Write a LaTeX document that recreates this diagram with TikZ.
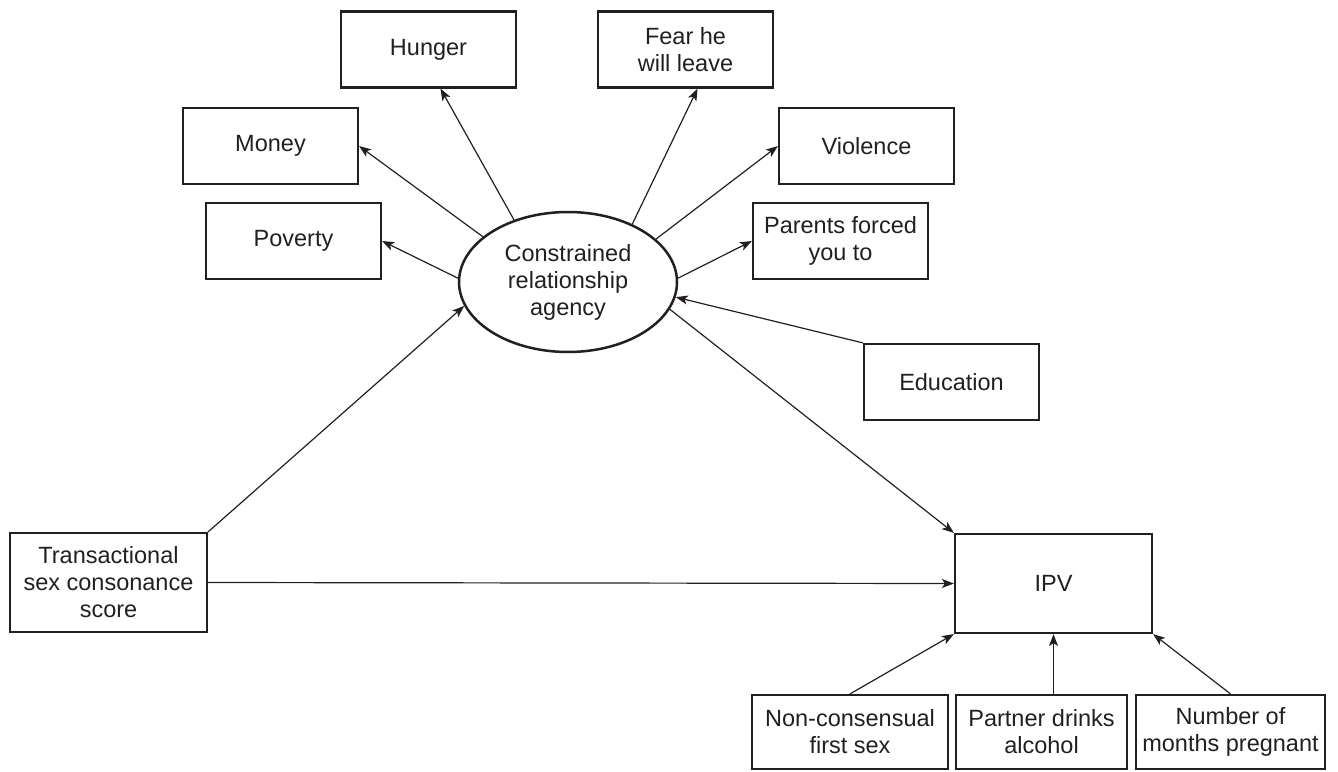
\documentclass[tikz,border=0pt]{standalone}
\usepackage{fontspec}
\setmainfont{Liberation Sans}
\usetikzlibrary{arrows.meta,shapes.geometric}
\definecolor{ink}{HTML}{231F20}
\tikzset{
  box/.style={draw=ink, line width=2.2pt, text=ink, align=center, inner sep=1pt, minimum width=175pt, minimum height=76pt},
  ell/.style={draw=ink, line width=2.5pt, ellipse, text=ink, align=center, inner sep=0pt, minimum width=218pt, minimum height=140pt},
  link/.style={draw=ink, line width=1.2pt, -{Stealth[length=12pt,width=9pt,inset=3pt]}},
  plain/.style={draw=ink, line width=1.2pt}
}
\begin{document}
\begin{tikzpicture}[x=1pt,y=-1pt, font=\fontsize{23.5}{27}\selectfont]
\useasboundingbox (0,0) rectangle (1338,771);
\node[ell] (cra) at (568,282) {Constrained\\relationship\\agency};
\node[box] (hunger) at (428.5,49.5) {Hunger};
\node[box] (fear) at (685.5,49.5) {Fear he\\will leave};
\node[box] (money) at (270.5,146) {Money};
\node[box] (violence) at (866.5,146) {Violence};
\node[box] (poverty) at (293.5,241) {Poverty};
\node[box] (parents) at (840.5,241) {Parents forced\\you to};
\node[box] (edu) at (951.5,382) {Education};
\node[box, minimum width=197pt, minimum height=99pt] (tsc) at (108.5,582.5) {Transactional\\sex consonance\\score};
\node[box, minimum width=197pt, minimum height=99pt] (ipv) at (1053.5,583.5) {IPV};
\node[box, minimum width=196pt, minimum height=74pt] (ncs) at (850,732) {Non-consensual\\first sex};
\node[box, minimum width=171pt, minimum height=74pt] (pda) at (1041.5,732) {Partner drinks\\alcohol};
\node[box, minimum width=189pt, minimum height=74pt] (nmp) at (1230.5,732) {Number of\\months pregnant};

\draw[link] (cra.178) -- (poverty.east);
\draw[link] (cra.152) -- (money.east);
\draw[link] (cra.131) -- ([xshift=12pt]hunger.south);
\draw[link] (cra.42) -- ([xshift=12pt]fear.south);
\draw[link] (cra.26) -- (violence.west);
\draw[link] (cra.2) -- (parents.west);
\draw[link] (edu.north west) -- (cra.-8);
\draw[link] (cra.-15) -- (ipv.north west);
\draw[link] (tsc.north east) -- (cra.193);
\draw[link] (tsc.east) -- (ipv.west);
\draw[link] (ncs.north) -- (ipv.south west);
\draw[link] (ipv.south |- pda.north) -- (ipv.south);
\draw[link] (nmp.north) -- (ipv.south east);
\end{tikzpicture}
\end{document}
